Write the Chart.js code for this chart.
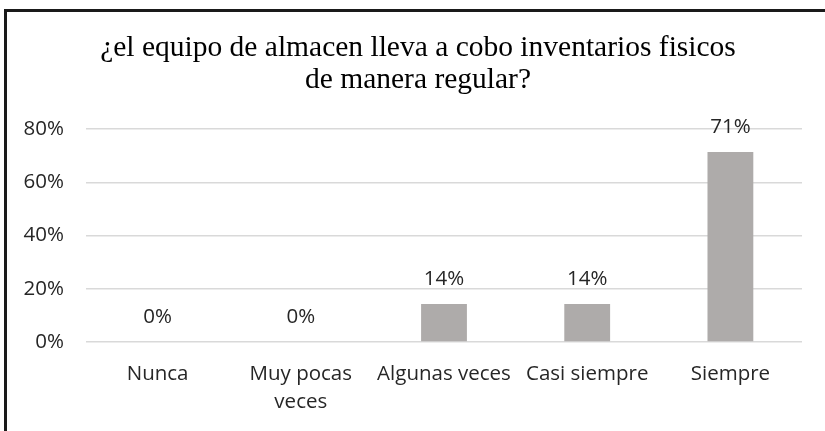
<!DOCTYPE html>
<html>
<head>
<meta charset="utf-8">
<script src="https://cdn.jsdelivr.net/npm/chart.js@4.4.0/dist/chart.umd.min.js"></script>
<style>
  body { margin: 0; background: #fff; }
  #wrap { position: relative; width: 825px; height: 431px; }
  #frame { position: absolute; left: 4px; top: 9px; right: 0; bottom: 0;
           border-left: 3px solid #1a1a1a; border-top: 3px solid #1a1a1a; pointer-events: none; }
</style>
</head>
<body>
<div id="wrap">
  <canvas id="myChart" width="825" height="431"></canvas>
  <div id="frame"></div>
</div>
<script>
var categories = ['Nunca', ['Muy pocas', 'veces'], 'Algunas veces', 'Casi siempre', 'Siempre'];
var values = [0, 0, 0.143, 0.143, 0.714];
var yTicks = [0, 0.2, 0.4, 0.6, 0.8];
var titleLines = ['¿el equipo de almacen lleva a cobo inventarios fisicos', 'de manera regular?'];

var labelFont = '20.5px "Open Sans"';

// title is drawn by hand so it can sit a bit left of the plot centre, like the original
var chartTitle = {
	id: 'chartTitle',
	afterDraw: function(chart) {
		var ctx = chart.ctx;
		ctx.save();
		ctx.font = '29.5px "Liberation Serif"';
		ctx.fillStyle = '#000';
		ctx.textAlign = 'center';
		ctx.textBaseline = 'middle';
		titleLines.forEach(function(line, i) {
			ctx.fillText(line, 418, 48 + i * 32);
		});
		ctx.restore();
	}
};

// draws the % above each bar
var valueLabels = {
	id: 'valueLabels',
	afterDatasetsDraw: function(chart) {
		var ctx = chart.ctx;
		var meta = chart.getDatasetMeta(0);
		ctx.save();
		ctx.font = labelFont;
		ctx.fillStyle = '#262626';
		ctx.textAlign = 'center';
		ctx.textBaseline = 'middle';
		meta.data.forEach(function(bar, i) {
			ctx.fillText(Math.round(values[i] * 100) + '%', bar.x, bar.y - 25);
		});
		ctx.restore();
	}
};

new Chart(document.getElementById('myChart'), {
	type: 'bar',
	data: {
		labels: categories,
		datasets: [{
			data: values,
			backgroundColor: '#AEABAA',
			barPercentage: 0.32,
			categoryPercentage: 1
		}]
	},
	options: {
		responsive: false,
		animation: false,
		layout: { padding: { left: 0, right: 23, top: 129, bottom: 0 } },
		plugins: {
			legend: { display: false },
			tooltip: { enabled: false },
			title: { display: false }
		},
		scales: {
			x: {
				grid: { display: false, drawTicks: false },
				border: { display: false },
				ticks: {
					color: '#262626',
					font: { family: 'Open Sans', size: 20.5, lineHeight: 1.38 },
					padding: 18,
					maxRotation: 0,
					autoSkip: false
				},
				afterFit: function(scale) { scale.height = 89; }
			},
			y: {
				min: 0,
				max: 0.8,
				afterBuildTicks: function(scale) {
					scale.ticks = yTicks.map(function(v) { return { value: v }; });
				},
				grid: { color: '#D9D9D9', lineWidth: 1.5, drawTicks: false },
				border: { display: false },
				ticks: {
					color: '#262626',
					font: { family: 'Open Sans', size: 20.5 },
					padding: 22,
					callback: function(v) { return Math.round(v * 100) + '%'; }
				},
				afterFit: function(scale) { scale.width = 86; }
			}
		}
	},
	plugins: [valueLabels, chartTitle]
});
</script>
</body>
</html>
